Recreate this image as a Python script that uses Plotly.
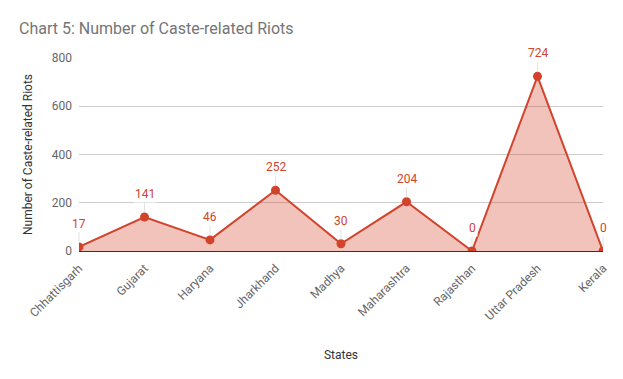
import plotly.graph_objects as go

states = ["Chhattisgarh", "Gujarat", "Haryana", "Jharkhand", "Madhya",
          "Maharashtra", "Rajasthan", "Uttar Pradesh", "Kerala"]
riots = [17, 141, 46, 252, 30, 204, 0, 724, 0]
y_ticks = [0, 200, 400, 600, 800]

line_color = "#d2432b"
fig = go.Figure()
fig.add_trace(go.Scatter(
    x=states, y=riots, mode="lines+markers",
    line=dict(color=line_color, width=2),
    marker=dict(size=9, color=line_color),
    fill="tozeroy", fillcolor="rgba(210,67,43,0.32)",
    cliponaxis=True, hoverinfo="x+y",
))

for s, v in zip(states, riots):
    fig.add_annotation(
        x=s, y=v, text=str(v), showarrow=True, arrowhead=0, arrowwidth=1,
        arrowcolor="rgba(200,200,200,0.5)", ax=0, ay=-23, standoff=4,
        bgcolor="white", font=dict(color=line_color, size=12, family="Roboto"),
        borderpad=1,
    )

fig.update_layout(
    width=623, height=379,
    margin=dict(l=79, r=20, t=58, b=128),
    paper_bgcolor="white", plot_bgcolor="white",
    font=dict(family="Roboto", color="#666666", size=12),
    title=dict(text="Chart 5: Number of Caste-related Riots", x=19/623, xanchor="left",
               y=1 - 28/379, yanchor="middle",
               font=dict(size=16, color="#757575", family="Roboto")),
    showlegend=False,
)
fig.update_xaxes(
    range=[0, 8], showgrid=False, tickangle=-45, ticks="", automargin=False,
    title=dict(text="States", font=dict(color="#333333", size=12), standoff=28),
    tickfont=dict(color="#666666", size=12), ticklabelstandoff=7,
    showline=False, zeroline=False,
)
fig.update_yaxes(
    range=[0, 800], tickvals=y_ticks, showgrid=True, gridcolor="#cccccc",
    zeroline=True, zerolinecolor="#333333", zerolinewidth=1, automargin=False,
    title=dict(text="Number of Caste-related Riots", font=dict(color="#333333", size=12), standoff=16),
    tickfont=dict(color="#666666", size=12), ticks="", ticklen=0, ticklabelstandoff=6,
)

fig.write_html("out.html", post_script="document.body.style.margin='0';",
               config={"displayModeBar": False})
